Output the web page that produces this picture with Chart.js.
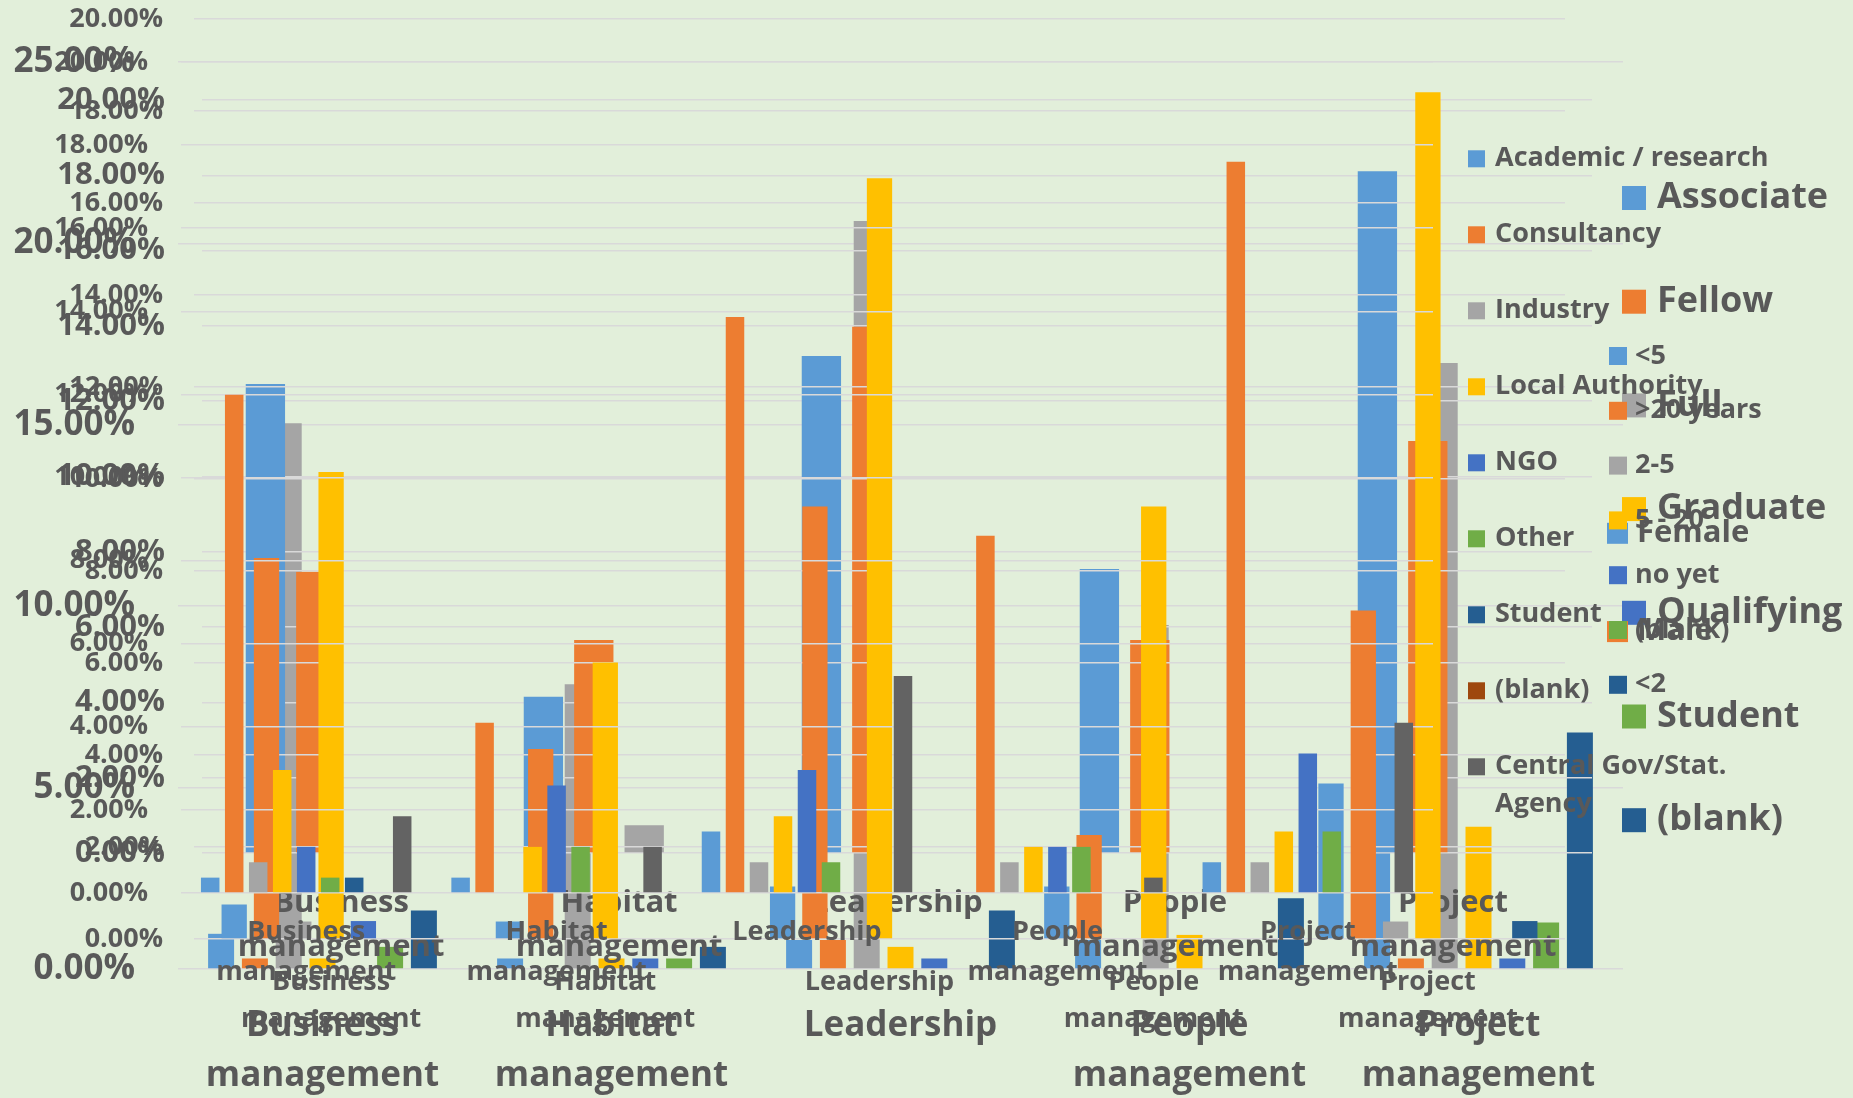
<!DOCTYPE html>
<html>
<head>
<meta charset="utf-8">
<script src="https://cdn.jsdelivr.net/npm/chart.js@4.4.1/dist/chart.umd.min.js"></script>
<style>
  html, body { margin: 0; padding: 0; background: #E2EFDA; overflow: hidden; }
  #wrap { position: relative; width: 1853px; height: 1098px; }
  #wrap canvas { position: absolute; left: 0; top: 0; }
</style>
</head>
<body>
<div id="wrap">
  <canvas id="grade" width="1853" height="1098"></canvas>
  <canvas id="gender" width="1853" height="1098"></canvas>
  <canvas id="years" width="1853" height="1098"></canvas>
  <canvas id="org" width="1853" height="1098"></canvas>
</div>
<script>
// ---- categories shared by all four panels ----
const categories = ['Business management', 'Habitat management', 'Leadership', 'People management', 'Project management'];

// ---- membership grade (%) ----
const gradeNames = ['Associate', 'Fellow', 'Full', 'Graduate', 'Qualifying', 'Student', '(blank)'];
const gradeAssociate  = [0.97, 0.29, 0.80, 0.80, 3.30];
const gradeFellow     = [0.29, 0.00, 0.80, 0.00, 0.29];
const gradeFull       = [15.04, 7.85, 20.62, 9.48, 16.70];
const gradeGraduate   = [0.29, 0.29, 0.61, 0.94, 3.92];
const gradeQualifying = [0.00, 0.29, 0.29, 0.00, 0.29];
const gradeStudent    = [0.61, 0.29, 0.00, 0.00, 1.28];
const gradeBlank      = [1.61, 0.61, 1.61, 1.95, 6.52];

// ---- gender (%) ----
const genderNames = ['Female', 'Male', 'Other', '(blank)'];
const genderFemale = [12.46, 4.15, 13.20, 7.54, 18.11];
const genderMale   = [7.47, 5.66, 13.98, 5.66, 10.94];
const genderOther  = [0.00, 0.74, 0.00, 0.00, 0.00];
const genderBlank  = [0.00, 0.00, 0.00, 0.00, 0.00];

// ---- years of experience (%) ----
const yearsNames = ['<5', '>20 years', '2-5', '5 - 20', 'no yet', '(blank)', '<2'];
const yearsUnder5  = [0.75, 0.38, 1.14, 1.14, 3.38];
const yearsOver20  = [8.28, 4.13, 9.40, 2.26, 7.14];
const years2to5    = [0.38, 0.00, 0.00, 0.00, 0.38];
const years5to20   = [10.15, 6.01, 16.54, 9.40, 18.41];
const yearsNotYet  = [0.39, 0.00, 0.00, 0.00, 0.00];
const yearsBlank   = [0.00, 0.00, 0.00, 0.00, 0.00];
const yearsUnder2  = [0.00, 0.00, 0.00, 0.00, 0.39];

// ---- organisation type (%) ----
const orgNames = ['Academic / research', 'Consultancy', 'Industry', 'Local Authority', 'NGO', 'Other', 'Student', '(blank)', 'Central Gov/Stat. Agency'];
const orgAcademic    = [0.37, 0.37, 1.48, 0.00, 0.74];
const orgConsultancy = [11.99, 4.10, 13.86, 8.60, 17.60];
const orgIndustry    = [0.74, 0.00, 0.74, 0.74, 0.74];
const orgLocal       = [2.96, 1.11, 1.85, 1.11, 1.48];
const orgNGO         = [1.11, 2.59, 2.96, 1.11, 3.36];
const orgOther       = [0.37, 1.11, 0.74, 1.11, 1.48];
const orgStudent     = [0.37, 0.00, 0.00, 0.00, 0.00];
const orgBlank       = [0.00, 0.00, 0.00, 0.00, 0.00];
const orgCentral     = [1.85, 1.11, 5.22, 0.37, 4.10];

// ---- styling ----
const officeColors = ['#5B9BD5', '#ED7D31', '#A5A5A5', '#FFC000', '#4472C4', '#70AD47', '#255E91', '#9E480E', '#636363'];
const TEXT = '#595959';
const FAMILY = "'Open Sans', sans-serif";
const WEIGHT = '700';
const W = 1853, H = 1098;

function wrapText(ctx, text, maxWidth) {
  if (!maxWidth) return [text];
  const words = text.split(' ');
  const lines = [];
  let cur = '';
  for (const w of words) {
    const test = cur ? cur + ' ' + w : w;
    if (cur && ctx.measureText(test).width > maxWidth) { lines.push(cur); cur = w; }
    else cur = test;
  }
  if (cur) lines.push(cur);
  return lines;
}

// Legend column drawn beside each panel
const sideLegend = {
  id: 'sideLegend',
  afterDraw(chart, args, o) {
    const ctx = chart.ctx;
    ctx.save();
    ctx.font = `${WEIGHT} ${o.size}px ${FAMILY}`;
    ctx.textBaseline = 'middle';
    ctx.textAlign = 'left';
    const n = o.count || chart.data.datasets.length;
    let y = o.y;
    for (let i = 0; i < n; i++) {
      const ds = chart.data.datasets[i];
      ctx.fillStyle = ds.backgroundColor;
      ctx.fillRect(o.x, y - o.box / 2, o.box, o.box);
      ctx.fillStyle = TEXT;
      const lines = wrapText(ctx, ds.label, o.maxWidth);
      lines.forEach((ln, k) => ctx.fillText(ln, o.textX, y + k * (o.lineGap || 0)));
      y += o.step;
    }
    ctx.restore();
  }
};

function buildChart(id, names, series, L) {
  const datasets = series.map((vals, i) => ({
    label: names[i],
    data: vals,
    backgroundColor: officeColors[i],
    borderWidth: 0,
    categoryPercentage: L.catPct,
    barPercentage: L.barPct
  }));
  return new Chart(document.getElementById(id), {
    type: 'bar',
    data: { labels: categories.map(c => c.split(' ')), datasets },
    options: {
      responsive: false,
      animation: false,
      devicePixelRatio: 1,
      layout: { padding: { left: 0, top: L.top, right: W - L.right, bottom: 0 } },
      plugins: {
        legend: { display: false },
        tooltip: { enabled: false },
        sideLegend: L.legend
      },
      scales: {
        x: {
          grid: { display: false, drawTicks: false },
          border: { display: false },
          ticks: {
            autoSkip: false, maxRotation: 0, minRotation: 0,
            padding: L.labelPad, color: TEXT,
            font: { family: FAMILY, size: L.labelFont, weight: WEIGHT, lineHeight: L.labelLH }
          },
          afterFit: s => { s.height = H - L.bottom; s.paddingLeft = 0; s.paddingRight = 0; }
        },
        y: {
          min: 0, max: L.max,
          grid: { color: '#D9D9D9', lineWidth: 1.5, drawTicks: false },
          border: { display: false },
          ticks: {
            stepSize: L.step, padding: L.tickPad, color: TEXT,
            font: { family: FAMILY, size: L.tickFont, weight: WEIGHT },
            callback: v => v.toFixed(2) + '%'
          },
          afterFit: s => { s.width = L.left; s.paddingTop = 0; s.paddingBottom = 0; }
        }
      }
    },
    plugins: [sideLegend]
  });
}

buildChart('grade', gradeNames,
  [gradeAssociate, gradeFellow, gradeFull, gradeGraduate, gradeQualifying, gradeStudent, gradeBlank],
  { left: 178, right: 1623, top: 62, bottom: 969, max: 25, step: 5,
    tickFont: 35, tickPad: 43, labelFont: 35, labelLH: 1.42, labelPad: 32,
    catPct: 0.8187, barPct: 0.769,
    legend: { x: 1622, textX: 1657, y: 198, step: 103.7, box: 24, size: 36 } });

buildChart('gender', genderNames,
  [genderFemale, genderMale, genderOther, genderBlank],
  { left: 202, right: 1592, top: 100, bottom: 853, max: 20, step: 2,
    tickFont: 31, tickPad: 37, labelFont: 31, labelLH: 1.42, labelPad: 28,
    catPct: 0.7252, barPct: 0.78,
    legend: { x: 1607, textX: 1637, y: 533.3, step: 98.3, box: 21, size: 31, count: 2 } });

buildChart('years', yearsNames,
  [yearsUnder5, yearsOver20, years2to5, years5to20, yearsNotYet, yearsBlank, yearsUnder2],
  { left: 194, right: 1565, top: 19, bottom: 939, max: 20, step: 2,
    tickFont: 27, tickPad: 31, labelFont: 27, labelLH: 1.4, labelPad: 24,
    catPct: 0.8246, barPct: 0.783,
    legend: { x: 1609, textX: 1635, y: 356, step: 54.8, box: 18, size: 27 } });

buildChart('org', orgNames,
  [orgAcademic, orgConsultancy, orgIndustry, orgLocal, orgNGO, orgOther, orgStudent, orgBlank, orgCentral],
  { left: 181, right: 1433, top: 62, bottom: 893, max: 20, step: 2,
    tickFont: 27, tickPad: 33, labelFont: 27, labelLH: 1.5, labelPad: 19,
    catPct: 0.8626, barPct: 0.771,
    legend: { x: 1468, textX: 1495, y: 158.8, step: 76, box: 17, size: 27, lineGap: 38, maxWidth: 300 } });
</script>
</body>
</html>
